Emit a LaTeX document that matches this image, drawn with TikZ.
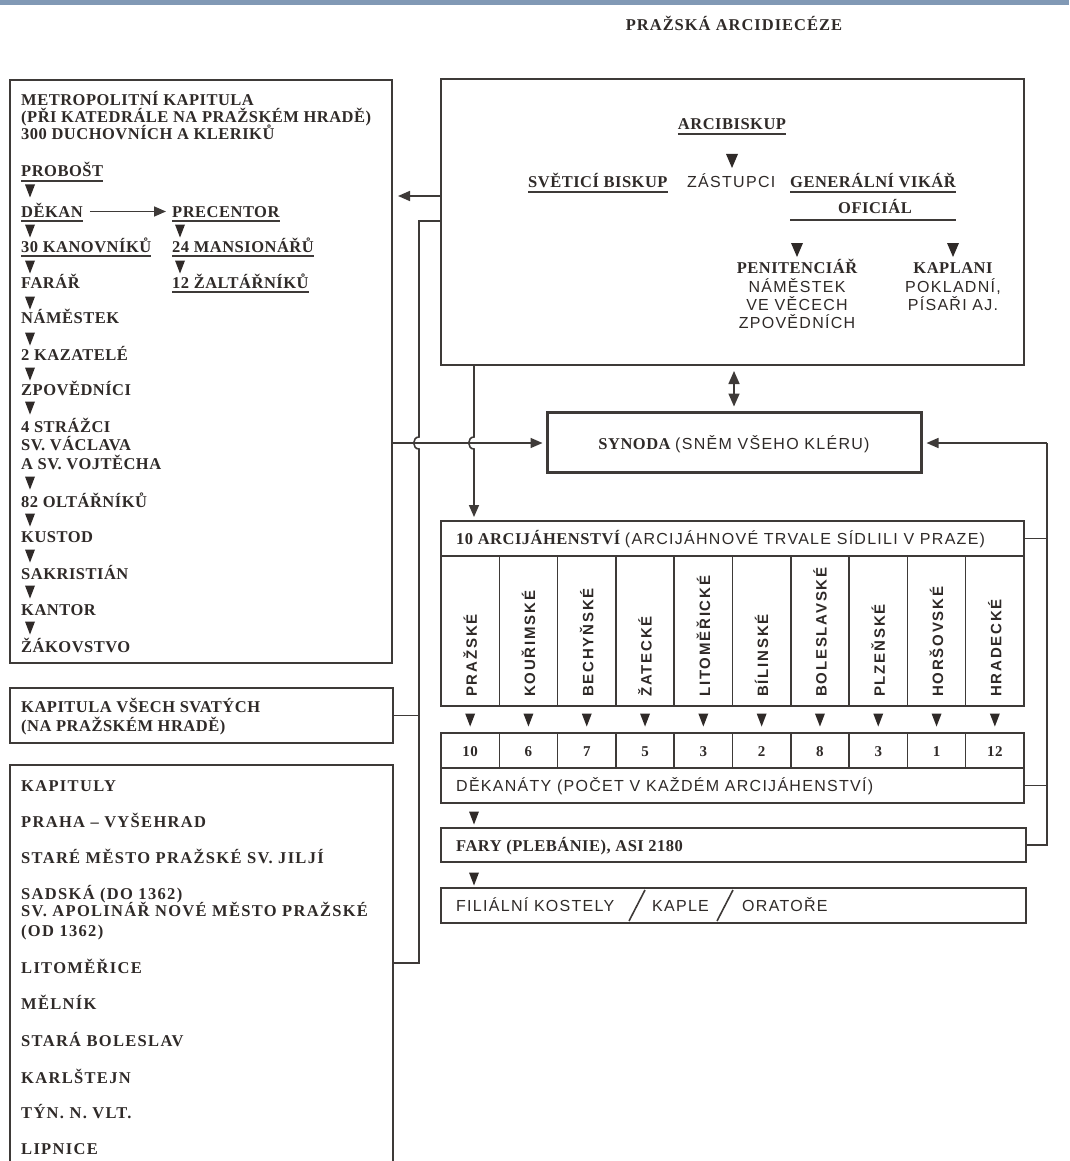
\documentclass[tikz,border=0pt]{standalone}
\usepackage{fontspec}
\setmainfont{Liberation Serif}
\newfontfamily\serB{Liberation Serif}[LetterSpace=3]
\newfontfamily\serK{Liberation Serif}[LetterSpace=8]
\newfontfamily\sanR{Liberation Sans}[LetterSpace=8]
\newfontfamily\sanC{Liberation Sans}[LetterSpace=12]
\newfontfamily\titF{Liberation Serif}[LetterSpace=6]
\usetikzlibrary{arrows.meta}
\definecolor{ink}{HTML}{2F2A28}
\definecolor{linec}{HTML}{3E3A38}
\definecolor{band}{HTML}{8199B5}
\newcommand\txB{\fontsize{16.5}{18}\selectfont\serB\bfseries}
\newcommand\txK{\fontsize{16.5}{18}\selectfont\serK\bfseries}
\newcommand\txR{\fontsize{16}{18}\selectfont\sanR\mdseries}
\newcommand\txC{\fontsize{15}{16}\selectfont\sanC\bfseries}
\newcommand\txT{\fontsize{16.5}{18}\selectfont\titF\bfseries}
\newcommand\txN{\fontsize{15}{16}\selectfont\serB\bfseries}
\tikzset{
  box/.style={draw=linec, line width=2pt, inner sep=0pt},
  cell/.style={draw=linec, line width=1.5pt, inner sep=0pt},
  conn/.style={draw=linec, line width=1.6pt},
  tip/.style={-{Triangle[length=12pt,width=10pt]}},
  lbl/.style={anchor=base west, inner sep=0pt, text=ink, font=\txB},
  lblr/.style={lbl, font=\txR},
  lblk/.style={lbl, font=\txK},
  ul/.style={lbl, text height=11pt, text depth=0pt, inner ysep=4pt, inner xsep=0pt,
    append after command={(\tikzlastnode.south west) edge[draw=linec, line width=1.8pt] (\tikzlastnode.south east)}},
  dn/.pic={\fill[ink] (-5,-6.5) -- (5,-6.5) -- (0,6.5) -- cycle;},
  dnbig/.pic={\fill[ink] (-6,-7) -- (6,-7) -- (0,7) -- cycle;},
  rot/.style={rotate=90, anchor=west, inner sep=0pt, text=ink, font=\txC},
}
\begin{document}
\begin{tikzpicture}[x=1pt,y=-1pt]
\useasboundingbox (0,0) rectangle (1069,1161);
\clip (0,0) rectangle (1069,1161);
\fill[white] (0,0) rectangle (1069,1161);
\fill[band] (0,0) rectangle (1069,5);
\node[lbl, font=\txT, anchor=base] (title) at (734,31) {PRAŽSKÁ ARCIDIECÉZE};

% ---------- Metropolitni kapitula
\node[box, minimum width=382pt, minimum height=583pt] (metro) at (201,371.5) {};
\node[lbl] (m1) at (21,106) {METROPOLITNÍ KAPITULA};
\node[lbl] (m2) at (21,123) {(PŘI KATEDRÁLE NA PRAŽSKÉM HRADĚ)};
\node[lbl] (m3) at (21,140) {300 DUCHOVNÍCH A KLERIKŮ};
\node[ul] (probost) at (21,177) {PROBOŠT};
\pic at (30,191) {dn};
\node[ul] (dekan) at (21,217) {DĚKAN};
\node[ul] (precentor) at (172,217) {PRECENTOR};
\draw[conn,tip,shorten <=7pt,shorten >=6pt] (dekan.east) -- (precentor.west);
\pic at (30,231) {dn}; \pic at (180,231) {dn};
\node[ul] (kanov) at (21,252) {30 KANOVNÍKŮ};
\node[ul] (mans) at (172,252) {24 MANSIONÁŘŮ};
\pic at (30,267) {dn}; \pic at (180,267) {dn};
\node[lbl] (farar) at (21,288) {FARÁŘ};
\node[ul] (zalt) at (172,288) {12 ŽALTÁŘNÍKŮ};
\pic at (30,303) {dn};
\node[lbl] (namestek) at (21,323) {NÁMĚSTEK};
\pic at (30,339) {dn};
\node[lbl] (kaz) at (21,360) {2 KAZATELÉ};
\pic at (30,374) {dn};
\node[lbl] (zpov) at (21,395) {ZPOVĚDNÍCI};
\pic at (30,408) {dn};
\node[lbl] (str1) at (21,432) {4 STRÁŽCI};
\node[lbl] (str2) at (21,450) {SV. VÁCLAVA};
\node[lbl] (str3) at (21,469) {A SV. VOJTĚCHA};
\pic at (30,483) {dn};
\node[lbl] (olt) at (21,507) {82 OLTÁŘNÍKŮ};
\pic at (30,520) {dn};
\node[lbl] (kustod) at (21,542) {KUSTOD};
\pic at (30,556) {dn};
\node[lbl] (sakr) at (21,579) {SAKRISTIÁN};
\pic at (30,592) {dn};
\node[lbl] (kantor) at (21,615) {KANTOR};
\pic at (30,628) {dn};
\node[lbl] (zak) at (21,652) {ŽÁKOVSTVO};

% ---------- Arcibiskup box
\node[box, minimum width=583pt, minimum height=286pt] (arch) at (732.5,222) {};
\node[ul, anchor=base] (arcib) at (732,130) {ARCIBISKUP};
\pic at (732,161) {dnbig};
\node[ul] (svetici) at (528,188) {SVĚTICÍ BISKUP};
\node[lblr] (zast) at (687,188) {ZÁSTUPCI};
\node[ul] (genvik) at (790,188) {GENERÁLNÍ VIKÁŘ};
\node[lbl, anchor=base] (ofic) at (875,213) {OFICIÁL};
\draw[draw=linec, line width=1.8pt] ([yshift=-28pt]genvik.south west) -- ([yshift=-28pt]genvik.south east);
\pic at (797,250) {dnbig}; \pic at (953,250) {dnbig};
\node[lbl, anchor=base] (pen) at (797,273) {PENITENCIÁŘ};
\node[lblr, anchor=base] (pen2) at (797,292) {NÁMĚSTEK};
\node[lblr, anchor=base] (pen3) at (797,310) {VE VĚCECH};
\node[lblr, anchor=base] (pen4) at (797,328) {ZPOVĚDNÍCH};
\node[lbl, anchor=base] (kap) at (953,273) {KAPLANI};
\node[lblr, anchor=base] (kap2) at (953,292) {POKLADNÍ,};
\node[lblr, anchor=base] (kap3) at (953,310) {PÍSAŘI AJ.};

% ---------- Synoda
\node[box, line width=3pt, minimum width=374pt, minimum height=60pt] (synoda) at (734,442) {};
\node[lbl, anchor=base] (syntext) at (734,449) {SYNODA\ {\txR (SNĚM VŠEHO KLÉRU)}};

% ---------- Arcijahenstvi
\node[box, minimum width=583pt, minimum height=35pt] (arcihead) at (732.5,538.5) {};
\node[lbl] (arcitext) at (456,544) {10 ARCIJÁHENSTVÍ {\txR (ARCIJÁHNOVÉ TRVALE SÍDLILI V PRAZE)}};
\foreach \nm [count=\i from 0] in {PRAŽSKÉ,KOUŘIMSKÉ,BECHYŇSKÉ,ŽATECKÉ,LITOMĚŘICKÉ,BÍLINSKÉ,BOLESLAVSKÉ,PLZEŇSKÉ,HORŠOVSKÉ,HRADECKÉ}{
  \pgfmathsetmacro\cx{441+58.3*(\i+0.5)}
  \node[cell, minimum width=58.3pt, minimum height=150pt] (col\i) at (\cx,631) {};
  \node[rot] (cl\i) at (\cx,697) {\nm};
  \pic at (\cx,720) {dn};
}
\foreach \n [count=\i from 0] in {10,6,7,5,3,2,8,3,1,12}{
  \pgfmathsetmacro\cx{441+58.3*(\i+0.5)}
  \node[cell, minimum width=58.3pt, minimum height=35pt] (num\i) at (\cx,750.5) {};
  \node[lbl, font=\txN, anchor=base] (nt\i) at (\cx,756) {\n};
}
\node[cell, line width=2pt, minimum width=583pt, minimum height=35pt] (dekanaty) at (732.5,785.5) {};
\node[lblr] (dektext) at (456,791) {DĚKANÁTY (POČET V KAŽDÉM ARCIJÁHENSTVÍ)};
\pic at (474,818) {dn};
\node[box, minimum width=585pt, minimum height=34pt] (fary) at (733.5,845) {};
\node[lbl] (farytext) at (456,851) {FARY (PLEBÁNIE), ASI 2180};
\pic at (474,879) {dn};
\node[box, minimum width=585pt, minimum height=35pt] (filial) at (733.5,905.5) {};
\node[lblr] (fil1) at (456,911) {FILIÁLNÍ KOSTELY};
\node[lblr] (fil2) at (652,911) {KAPLE};
\node[lblr] (fil3) at (742,911) {ORATOŘE};
\draw[conn] (629,921) -- (645,890);
\draw[conn] (717,921) -- (733,890);

% ---------- Left lower boxes
\node[box, minimum width=383pt, minimum height=55pt] (allsaints) at (201.5,715.5) {};
\node[lbl] (as1) at (21,712) {KAPITULA VŠECH SVATÝCH};
\node[lbl] (as2) at (21,731) {(NA PRAŽSKÉM HRADĚ)};
\node[box, minimum width=383pt, minimum height=420pt] (kapituly) at (201.5,975) {};
\node[lblk] (k0) at (21,791) {KAPITULY};
\node[lblk] (k1) at (21,827) {PRAHA – VYŠEHRAD};
\node[lblk] (k2) at (21,863) {STARÉ MĚSTO PRAŽSKÉ SV. JILJÍ};
\node[lblk] (k3) at (21,899) {SADSKÁ (DO 1362)};
\node[lblk] (k4) at (21,916) {SV. APOLINÁŘ NOVÉ MĚSTO PRAŽSKÉ};
\node[lblk] (k5) at (21,936) {(OD 1362)};
\node[lblk] (k6) at (21,973) {LITOMĚŘICE};
\node[lblk] (k7) at (21,1009) {MĚLNÍK};
\node[lblk] (k8) at (21,1046) {STARÁ BOLESLAV};
\node[lblk] (k9) at (21,1083) {KARLŠTEJN};
\node[lblk] (k10) at (21,1118) {TÝN. N. VLT.};
\node[lblk] (k11) at (21,1154) {LIPNICE};

% ---------- Connectors
\coordinate (yA) at (0,196);
\draw[conn,tip,shorten >=5pt] (arch.west |- yA) -- (metro.east |- yA);
\coordinate (jL1) at (419,221);
\coordinate (jL2) at (419,963);
\draw[conn] (arch.west |- jL1) -- (jL1) -- (419,437) .. controls (412,437) and (412,449) .. (419,449) -- (jL2) -- (kapituly.east |- jL2);
\draw[conn] (allsaints.east) -- (allsaints.east -| jL1);
\coordinate (ySyn) at (0,443);
\draw[conn,tip,shorten >=3pt] (metro.east |- ySyn) -- (synoda.west |- ySyn);
\coordinate (xM) at (474,0);
\draw[conn,tip,shorten >=3pt] (arch.south -| xM) -- (474,437) .. controls (467,437) and (467,449) .. (474,449) -- (arcihead.north -| xM);
\draw[conn,{Triangle[length=13pt,width=11pt]}-{Triangle[length=13pt,width=11pt]},shorten <=5pt,shorten >=4pt] (arch.south -| synoda.north) -- (synoda.north);
\coordinate (rTop) at (1047,443);
\coordinate (rBot) at (1047,845);
\draw[conn,tip,shorten >=4pt] (rTop) -- (synoda.east |- rTop);
\draw[conn] (rTop) -- (rBot) -- (fary.east |- rBot);
\draw[conn] (arcihead.east) -- (arcihead.east -| rTop);
\draw[conn] (dekanaty.east) -- (dekanaty.east -| rTop);
\end{tikzpicture}
\end{document}
